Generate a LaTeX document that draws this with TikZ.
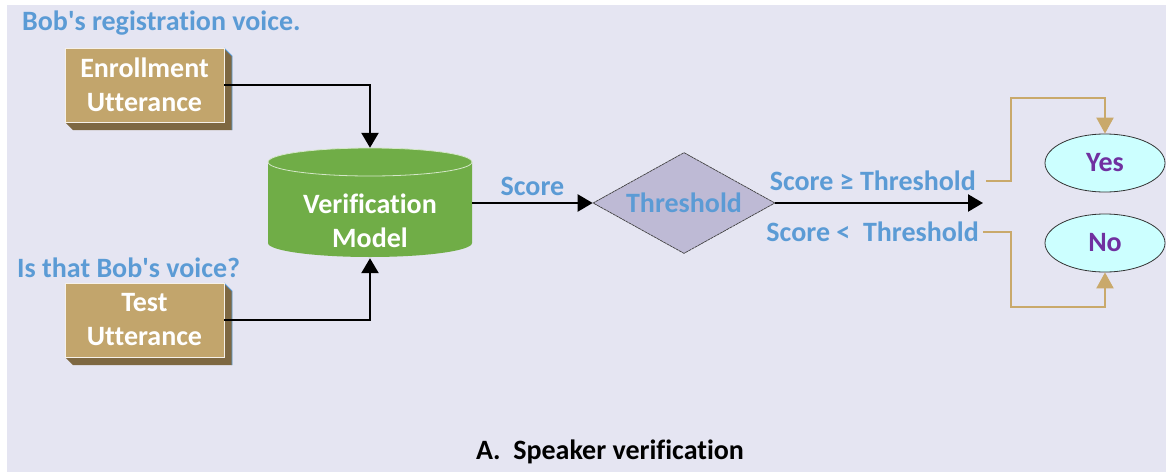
\documentclass[tikz,border=0pt]{standalone}
\usepackage{fontspec}
\setmainfont[Ligatures=NoCommon]{Carlito}
\usetikzlibrary{shapes.geometric,arrows.meta,calc}
\definecolor{bg}{HTML}{E5E5F2}
\definecolor{lblue}{HTML}{5B9BD5}
\definecolor{tanf}{HTML}{C2A56C}
\definecolor{tand}{HTML}{7E6842}
\definecolor{mgreen}{HTML}{70AD47}
\definecolor{dia}{HTML}{BEBAD5}
\definecolor{cyanf}{HTML}{CCFFFF}
\definecolor{purp}{HTML}{7030A0}
\definecolor{tanl}{HTML}{C9A96B}
\tikzset{
  bigfont/.style={font=\bfseries\fontsize{28}{34}\selectfont},
  lbl/.style={text=lblue,bigfont,inner sep=0pt},
  boxtxt/.style={text=white,bigfont,align=center,inner sep=0pt},
  conn/.style={line width=2.4pt,draw=black,-{Triangle[width=17pt,length=15pt]}},
  tconn/.style={line width=2.2pt,draw=tanl,-{Triangle[width=17pt,length=16pt]}},
  oval/.style={ellipse,draw=black!80,line width=0.8pt,fill=cyanf,minimum width=120pt,minimum height=58pt,inner sep=0pt,text=purp,bigfont},
}
\begin{document}
\begin{tikzpicture}[x=1pt,y=-1pt]
\useasboundingbox (0,0) rectangle (1168,472);
\fill[white] (0,0) rectangle (1168,472);
\fill[bg] (7,5) rectangle (1166,472);
% box extrusions
\foreach \yy in {48,283}{
  \fill[tand] (224,\yy) -- (232,\yy+8) -- (232,\yy+82) -- (73,\yy+82) -- (65,\yy+74) -- (224,\yy+74) -- cycle;
  \draw[lblue,line width=0.8pt] (224,\yy) -- (232,\yy+8) -- (232,\yy+82);
  \fill[tanf] (65,\yy) rectangle (224,\yy+74);
  \draw[white!85!tanf,line width=0.6pt] (65,\yy) rectangle (224,\yy+74);
}
\node[boxtxt,minimum width=159pt,minimum height=74pt] (enr) at (144.5,85) {Enrollment\\Utterance};
\node[boxtxt,minimum width=159pt,minimum height=74pt] (tst) at (144.5,320) {Test\\Utterance};
\node[lbl,anchor=west] (l1) at (22,23) {Bob\textquotesingle s registration voice.};
\node[lbl,anchor=west] (l2) at (17,268) {Is that Bob\textquotesingle s voice?};
% cylinder
\fill[mgreen] (268,162) -- (268,243) arc[start angle=180,end angle=0,x radius=102,y radius=14] -- (472,162) arc[start angle=0,end angle=-180,x radius=102,y radius=14] -- cycle;
\draw[white!70!mgreen,line width=0.8pt] (370,162) ellipse[x radius=102,y radius=14];
\node[minimum width=204pt,minimum height=110pt,inner sep=0pt] (vm) at (370,203) {};
\node[boxtxt] (vmt) at (370,221) {Verification\\Model};
% diamond
\node[diamond,draw=black!75,line width=0.7pt,dash pattern=on 3pt off 0.6pt,fill=dia,minimum width=182pt,minimum height=101pt,aspect=1.8,inner sep=0pt,text=lblue,bigfont] (th) at (684,203) {Threshold};
% ovals
\node[oval] (yes) at (1105,163) {Yes};
\node[oval] (no) at (1105,243) {No};
% connectors
\draw[conn] (enr.east) -| (vm.north);
\draw[conn] (tst.east) -| (vm.south);
\draw[conn] (vm.east) -- (th.west) node[lbl,midway,above=6pt] (sc) {Score};
\coordinate (out) at (983,203);
\draw[conn] (th.east) -- (out);
\node[lbl,anchor=east] (ge) at (976,181) {Score ≥ Threshold};
\node[lbl,anchor=east] (lt) at (979,232) {Score <\ \ Threshold};
\draw[tconn] ($(ge.east)+(10,0)$) -- (1011,181) |- (1105,98) -- (yes.north);
\draw[tconn] ($(lt.east)+(4,0)$) -- (1011,232) |- (1105,307) -- (no.south);
\node[bigfont,inner sep=0pt] (cap) at (610,452) {A.\ \ Speaker verification};
\end{tikzpicture}
\end{document}
